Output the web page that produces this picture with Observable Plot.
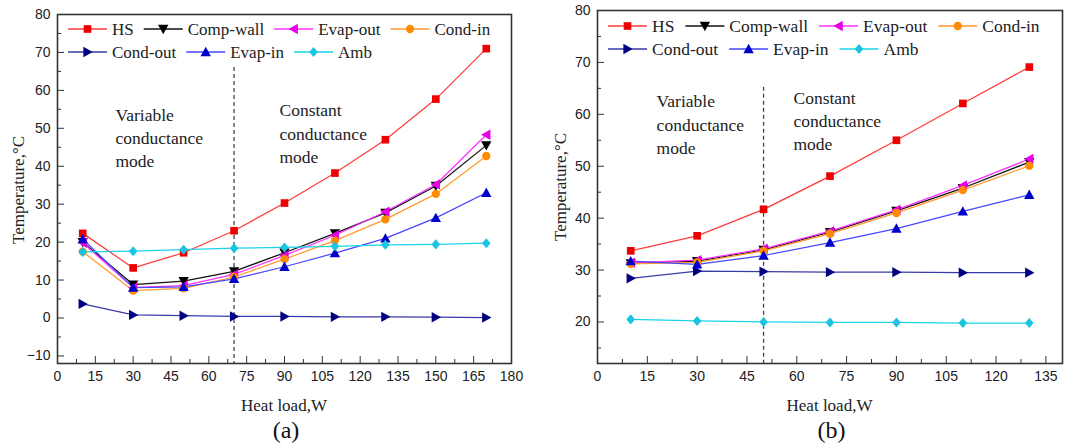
<!DOCTYPE html>
<html><head><meta charset="utf-8">
<script src="https://cdn.jsdelivr.net/npm/d3@7"></script>
<script src="https://cdn.jsdelivr.net/npm/@observablehq/plot@0.6"></script>
<style>
body{margin:0;background:#fff;}
#wrap{position:relative;width:1069px;height:447px;overflow:hidden;background:#fff;}
.panel{position:absolute;top:0;}
</style></head><body><div id="wrap"></div>
<script>
// ---------- data ----------
const seriesNames = ["HS","Comp-wall","Evap-out","Cond-in","Cond-out","Evap-in","Amb"];
const lineColors   = ["#ff3b3b","#111111","#ff30ff","#ff9a2e","#3a3aa8","#4646ff","#1ad2ec"];
const markerColors = ["#ee0000","#000000","#e600e6","#ff8c00","#000080","#0000cc","#18c4e0"];
const markerShapes = ["square","down","left","circle","right","up","diamond"];

// panel (a)
const loadA = [10,30,50,70,90,110,130,150,170];
const hsA       = [22.3,13.2,17.2,23.0,30.3,38.2,47.0,57.7,71.0];
const compWallA = [20.0,8.8,9.7,12.3,17.2,22.3,27.7,34.8,45.5];
const evapOutA  = [19.8,8.0,8.5,11.5,16.5,21.8,28.0,35.2,48.3];
const condInA   = [17.5,7.2,7.8,10.8,15.5,20.4,26.0,32.7,42.7];
const condOutA  = [3.7,0.8,0.6,0.4,0.4,0.3,0.3,0.2,0.1];
const evapInA   = [20.8,8.0,8.2,10.3,13.5,17.1,21.0,26.4,33.0];
const ambA      = [17.4,17.6,18.0,18.4,18.6,18.9,19.3,19.4,19.7];
const xTicksA = [0,15,30,45,60,75,90,105,120,135,150,165,180];
const xMinorA = [7.5,22.5,37.5,52.5,67.5,82.5,97.5,112.5,127.5,142.5,157.5,172.5];
const yTicksA = [-10,0,10,20,30,40,50,60,70,80];
const yMinorA = [-5,5,15,25,35,45,55,65,75];
const xDomainA = [0,180], yDomainA = [-12,80];
const splitA = 70, splitTopA = 66;

// panel (b)
const loadB = [10,30,50,70,90,110,130];
const hsB       = [33.7,36.6,41.7,48.1,55.0,62.1,69.1];
const compWallB = [31.3,31.7,33.9,37.3,41.4,45.8,50.8];
const evapOutB  = [31.4,31.9,34.1,37.5,41.6,46.3,51.4];
const condInB   = [31.2,31.5,33.7,37.0,41.0,45.4,50.1];
const condOutB  = [28.4,29.8,29.7,29.6,29.6,29.5,29.5];
const evapInB   = [31.7,31.1,32.8,35.3,38.0,41.3,44.5];
const ambB      = [20.5,20.2,20.0,19.9,19.9,19.8,19.8];
const xTicksB = [0,15,30,45,60,75,90,105,120,135];
const xMinorB = [7.5,22.5,37.5,52.5,67.5,82.5,97.5,112.5,127.5];
const yTicksB = [20,30,40,50,60,70,80];
const yMinorB = [15,25,35,45,55,65,75];
const xDomainB = [0,140], yDomainB = [12,80];
const splitB = 50, splitTopB = 65.2;

const annotText = ["Variable\nconductance\nmode","Constant\nconductance\nmode"];
const annotA = [[23,47.9],[88,49]];
const annotB = [[17.8,58.3],[59,59]];

// ---------- symbols ----------
function hs(s){return Math.sqrt(s/Math.PI);}
const symbols = {
  square:{draw(c,s){const r=hs(s)*0.85;c.rect(-r,-r,2*r,2*r);}},
  circle:{draw(c,s){const r=hs(s)*0.92;c.moveTo(r,0);c.arc(0,0,r,0,2*Math.PI);}},
  diamond:{draw(c,s){const r=hs(s)*1.12;c.moveTo(0,-r);c.lineTo(r*0.85,0);c.lineTo(0,r);c.lineTo(-r*0.85,0);c.closePath();}},
  up:{draw(c,s){const r=hs(s)*1.15;c.moveTo(0,-r);c.lineTo(r,r*0.8);c.lineTo(-r,r*0.8);c.closePath();}},
  down:{draw(c,s){const r=hs(s)*1.15;c.moveTo(0,r);c.lineTo(r,-r*0.8);c.lineTo(-r,-r*0.8);c.closePath();}},
  left:{draw(c,s){const r=hs(s)*1.15;c.moveTo(-r,0);c.lineTo(r*0.8,-r);c.lineTo(r*0.8,r);c.closePath();}},
  right:{draw(c,s){const r=hs(s)*1.15;c.moveTo(r,0);c.lineTo(-r*0.8,-r);c.lineTo(-r*0.8,r);c.closePath();}}
};
const R = 4.5;
const serif = "'Liberation Serif','Times New Roman',serif";
const sans = "'Liberation Sans',Arial,sans-serif";
const measureCtx = document.createElement("canvas").getContext("2d");
function textWidth(str, size){ measureCtx.font = `${size}px 'Liberation Serif'`; return measureCtx.measureText(str).width; }

function makePanel(cfg){
  const marks = [];
  marks.push(Plot.ruleX([cfg.split],{y1:cfg.splitTop,y2:cfg.yDomain[0],stroke:"#444",strokeWidth:1.3,strokeDasharray:"4,3"}));
  cfg.values.forEach((vals,i)=>{
    const d = cfg.load.map((x,j)=>({x, y: vals[j]}));
    marks.push(Plot.line(d,{x:"x",y:"y",stroke:lineColors[i],strokeWidth:1.25}));
  });
  cfg.values.forEach((vals,i)=>{
    const d = cfg.load.map((x,j)=>({x, y: vals[j]}));
    marks.push(Plot.dot(d,{x:"x",y:"y",r:R,symbol:symbols[markerShapes[i]],fill:markerColors[i],stroke:"none"}));
  });
  cfg.annot.forEach((p,i)=>{
    marks.push(Plot.text([annotText[i]],{x:()=>p[0],y:()=>p[1],text:d=>d,textAnchor:"start",lineAnchor:"middle",lineHeight:1.32,fontFamily:serif,fontSize:17.5,fill:"#222"}));
  });
  marks.push(Plot.axisX(cfg.xTicks,{anchor:"bottom",tickSize:-7,tickPadding:15,label:null,fontSize:14,fontFamily:sans,stroke:"#333",fill:"#222"}));
  marks.push(Plot.axisX(cfg.xMinor,{anchor:"bottom",tickSize:-4,tickFormat:()=>"",label:null,stroke:"#333"}));
  marks.push(Plot.axisY(cfg.yTicks,{anchor:"left",tickSize:-7,tickPadding:14,label:null,fontSize:14,fontFamily:sans,stroke:"#333",fill:"#222"}));
  marks.push(Plot.axisY(cfg.yMinor,{anchor:"left",tickSize:-4,tickFormat:()=>"",label:null,stroke:"#333"}));
  marks.push(Plot.frame({stroke:"#333",strokeWidth:1.6}));
  const svg = Plot.plot({
    width:cfg.width,height:447,
    marginLeft:cfg.ml,marginRight:cfg.mr,marginTop:cfg.mt,marginBottom:84,
    x:{domain:cfg.xDomain},y:{domain:cfg.yDomain},
    style:{background:"white",overflow:"visible",fontFamily:sans},
    marks
  });
  svg.classList.add("panel");
  svg.style.left = cfg.left+"px";
  document.getElementById("wrap").appendChild(svg);

  const g = d3.select(svg).append("g").attr("text-anchor","start");
  // legend
  cfg.legendRows.forEach((row,ri)=>{
    let x = cfg.ml + 11;
    const y = cfg.legendY[ri];
    row.forEach(i=>{
      g.append("line").attr("x1",x).attr("x2",x+39).attr("y1",y).attr("y2",y).attr("stroke",lineColors[i]).attr("stroke-width",1.3);
      g.append("path").attr("transform",`translate(${x+19.5},${y})`)
        .attr("d",d3.symbol().type(symbols[markerShapes[i]]).size(Math.PI*R*R)()).attr("fill",markerColors[i]);
      g.append("text").attr("x",x+44).attr("y",y).attr("dy","0.35em").attr("text-anchor","start")
        .attr("font-family",serif).attr("font-size",cfg.legendFont).attr("fill","#222").text(seriesNames[i]);
      x += 44 + textWidth(seriesNames[i], cfg.legendFont) + cfg.legendGap;
    });
  });
  // axis titles
  const fx0 = cfg.ml, fx1 = cfg.width - cfg.mr;
  g.append("text").attr("x",(fx0+fx1)/2).attr("y",405).attr("dy","0.35em").attr("text-anchor","middle")
    .attr("font-family",serif).attr("font-size",17).attr("fill","#222").text("Heat load,W");
  g.append("text").attr("transform",`translate(${cfg.ylabX},${cfg.ylabY}) rotate(-90)`).attr("dy","0.35em").attr("text-anchor","middle")
    .attr("font-family",serif).attr("font-size",17).attr("fill","#222").text("Temperature,°C");
  g.append("text").attr("x",(fx0+fx1)/2+2).attr("y",430).attr("dy","0.35em").attr("text-anchor","middle")
    .attr("font-family",serif).attr("font-size",24).attr("fill","#111").text(cfg.tag);
}

makePanel({
  left:0,width:540,ml:57,mr:29,mt:14,
  load:loadA, values:[hsA,compWallA,evapOutA,condInA,condOutA,evapInA,ambA],
  xDomain:xDomainA,yDomain:yDomainA,xTicks:xTicksA,xMinor:xMinorA,yTicks:yTicksA,yMinor:yMinorA,
  split:splitA,splitTop:splitTopA,annot:annotA,
  legendRows:[[0,1,2,3],[4,5,6]],legendY:[29,52],legendFont:17,legendGap:10,
  ylabX:18,ylabY:190,tag:"(a)"
});
makePanel({
  left:540,width:529,ml:57,mr:7,mt:10,
  load:loadB, values:[hsB,compWallB,evapOutB,condInB,condOutB,evapInB,ambB],
  xDomain:xDomainB,yDomain:yDomainB,xTicks:xTicksB,xMinor:xMinorB,yTicks:yTicksB,yMinor:yMinorB,
  split:splitB,splitTop:splitTopB,annot:annotB,
  legendRows:[[0,1,2,3],[4,5,6]],legendY:[26,49],legendFont:17.5,legendGap:11,
  ylabX:20,ylabY:187,tag:"(b)"
});
</script></body></html>
